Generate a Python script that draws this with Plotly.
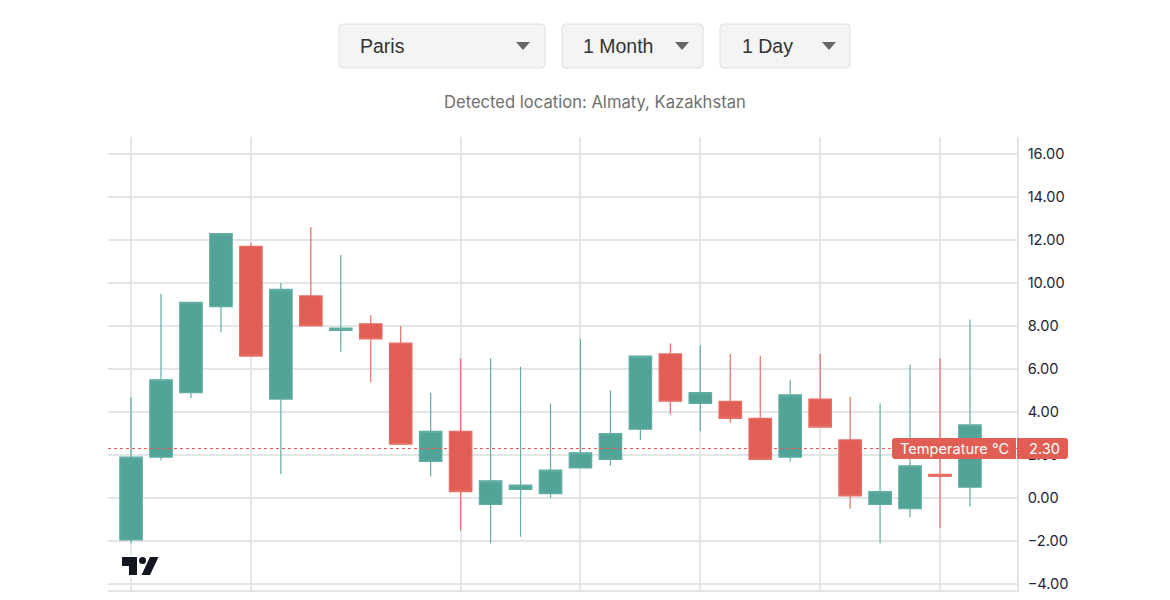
import plotly.graph_objects as go

# day index along the x axis
days = list(range(29))
open_vals = [-1.95, 1.9, 4.9, 8.9, 11.7, 4.6, 9.4, 7.8, 8.1, 7.2, 1.7, 3.1, -0.3, 0.4, 0.2,
             1.4, 1.8, 3.2, 6.7, 4.4, 4.5, 3.7, 1.9, 4.6, 2.7, -0.3, -0.5, 1.1, 0.5]
high_vals = [4.7, 9.5, 9.1, 12.3, 11.85, 10.0, 12.6, 11.3, 8.5, 8.0, 4.9, 6.5, 6.5, 6.1, 4.4,
             7.4, 5.0, 6.6, 7.2, 7.1, 6.7, 6.6, 5.5, 6.7, 4.7, 4.4, 6.2, 6.5, 8.3]
low_vals = [-2.1, 1.75, 4.65, 7.7, 6.6, 1.1, 8.0, 6.8, 5.4, 2.5, 1.0, -1.5, -2.1, -1.8, 0.0,
            1.4, 1.5, 2.7, 3.9, 3.1, 3.5, 1.8, 1.7, 3.3, -0.5, -2.1, -0.9, -1.4, -0.4]
close_vals = [1.9, 5.5, 9.1, 12.3, 6.6, 9.7, 8.0, 7.9, 7.4, 2.5, 3.1, 0.3, 0.8, 0.6, 1.3,
              2.1, 3.0, 6.6, 4.5, 4.9, 3.7, 1.8, 4.8, 3.3, 0.1, 0.3, 1.5, 1.0, 3.4]

x_ticks = [0, 4, 11, 15, 19, 23, 27]
y_ticks = [-4, -2, 0, 2, 4, 6, 8, 10, 12, 14, 16]
last_value = 2.3
series_name = "Temperature °C"
location_text = "Detected location: Almaty, Kazakhstan"
menu_labels = ["Paris", "1 Month", "1 Day"]

# the page body has an 8px margin, so the figure starts at (8, 8)
PAGE = 8
W, H = 1154, 592
L, R, T, B = 100, 145, 129, 10

TEAL = "#52a499"
RED = "#e05e54"
GRID = "#e3e6e8"


# page pixels -> paper fractions
def px(x):
    return (x - PAGE - L) / (W - L - R)


def py(y):
    return 1 - (y - PAGE - T) / (H - T - B)


def round_rect(x0, y0, x1, y1, r=4, left=True, right=True):
    rl = r if left else 0
    rr = r if right else 0
    pts = [
        f"M {px(x0 + rl)} {py(y0)}",
        f"L {px(x1 - rr)} {py(y0)}",
        f"Q {px(x1)} {py(y0)} {px(x1)} {py(y0 + rr)}",
        f"L {px(x1)} {py(y1 - rr)}",
        f"Q {px(x1)} {py(y1)} {px(x1 - rr)} {py(y1)}",
        f"L {px(x0 + rl)} {py(y1)}",
        f"Q {px(x0)} {py(y1)} {px(x0)} {py(y1 - rl)}",
        f"L {px(x0)} {py(y0 + rl)}",
        f"Q {px(x0)} {py(y0)} {px(x0 + rl)} {py(y0)} Z",
    ]
    return " ".join(pts)


def poly(points):
    return "M " + " L ".join(f"{px(a)} {py(b)}" for a, b in points) + " Z"


def paper_shape(path, fill, line="rgba(0,0,0,0)", width=0):
    return dict(type="path", xref="paper", yref="paper", path=path, fillcolor=fill,
                line=dict(color=line, width=width), layer="above")


fig = go.Figure(go.Candlestick(
    x=days, open=open_vals, high=high_vals, low=low_vals, close=close_vals,
    increasing=dict(fillcolor=TEAL, line=dict(color="#62ada3", width=1.2)),
    decreasing=dict(fillcolor=RED, line=dict(color="#e66e65", width=1.2)),
    whiskerwidth=0,
    showlegend=False,
))

shapes = []
annotations = []

# dropdown boxes
menu_boxes = [(339, 545, 358, 516), (562, 703, 581, 675), (720, 850, 740, 822)]
for label, (x0, x1, tx, ax) in zip(menu_labels, menu_boxes):
    shapes.append(paper_shape(round_rect(x0, 24, x1, 68), "#f4f4f4", "#dedede", 1))
    shapes.append(paper_shape(poly([(ax, 42), (ax + 14, 42), (ax + 7, 50)]), "#666666"))
    annotations.append(dict(x=px(tx), y=py(46), text=label, xanchor="left", yanchor="middle",
                            font=dict(family="Liberation Sans", size=19.5, color="#333333")))

annotations.append(dict(x=px(595), y=py(102), text=location_text, xanchor="center", yanchor="middle",
                        font=dict(family="Inter", size=16.6, color="#707070")))

# last value line and its two labels
shapes.append(dict(type="line", xref="paper", x0=0, x1=1, yref="y", y0=last_value, y1=last_value,
                   line=dict(color="#ef5350", width=1, dash="dot"), layer="above"))
shapes.append(paper_shape(round_rect(892, 438, 1016, 459, r=3, right=False), RED))
shapes.append(paper_shape(round_rect(1017, 438, 1068, 459, r=3, left=False), RED))
annotations.append(dict(x=px(954), y=py(448.5), text=series_name, xanchor="center", yanchor="middle",
                        font=dict(family="Inter", size=14.6, color="white")))
annotations.append(dict(x=px(1027), y=py(448.5), text=f"{last_value:.2f}", xanchor="left", yanchor="middle",
                        font=dict(family="Inter", size=14.6, color="white")))

# logo in the corner
shapes.append(paper_shape(poly([(120, 555), (160, 555), (160, 577), (120, 577)]), "white"))
shapes.append(paper_shape(poly([(122, 557), (137, 557), (137, 575), (129, 575), (129, 566), (122, 566)]), "#131722"))
shapes.append(paper_shape(poly([(150, 557), (158.5, 557), (150, 575), (141.5, 575)]), "#131722"))
shapes.append(dict(type="circle", xref="paper", yref="paper", x0=px(139), x1=px(146), y0=py(557), y1=py(564),
                   fillcolor="#131722", line=dict(width=0), layer="above"))

fig.update_layout(
    width=W,
    height=H,
    margin=dict(l=L, r=R, t=T, b=B, pad=0),
    paper_bgcolor="white",
    plot_bgcolor="white",
    boxgap=0.25,
    boxgroupgap=0,
    font=dict(family="Inter", size=14.6, color="#1f2430"),
    shapes=shapes,
    annotations=[dict(a, xref="paper", yref="paper", showarrow=False) for a in annotations],
)
fig.update_xaxes(
    range=[-0.77, 29.57],
    rangeslider_visible=False,
    tickvals=x_ticks,
    showticklabels=False,
    showgrid=True,
    gridcolor=GRID,
    gridwidth=1.5,
    zeroline=False,
    showline=True,
    linecolor=GRID,
    linewidth=1.5,
    automargin=False,
)
fig.update_yaxes(
    range=[-4.28, 16.79],
    side="right",
    tickvals=y_ticks,
    tickformat=".2f",
    ticklabelstandoff=6,
    showgrid=True,
    gridcolor=GRID,
    gridwidth=1.5,
    zeroline=False,
    showline=True,
    linecolor=GRID,
    linewidth=1.5,
    automargin=False,
)

fig.write_html("out.html")
